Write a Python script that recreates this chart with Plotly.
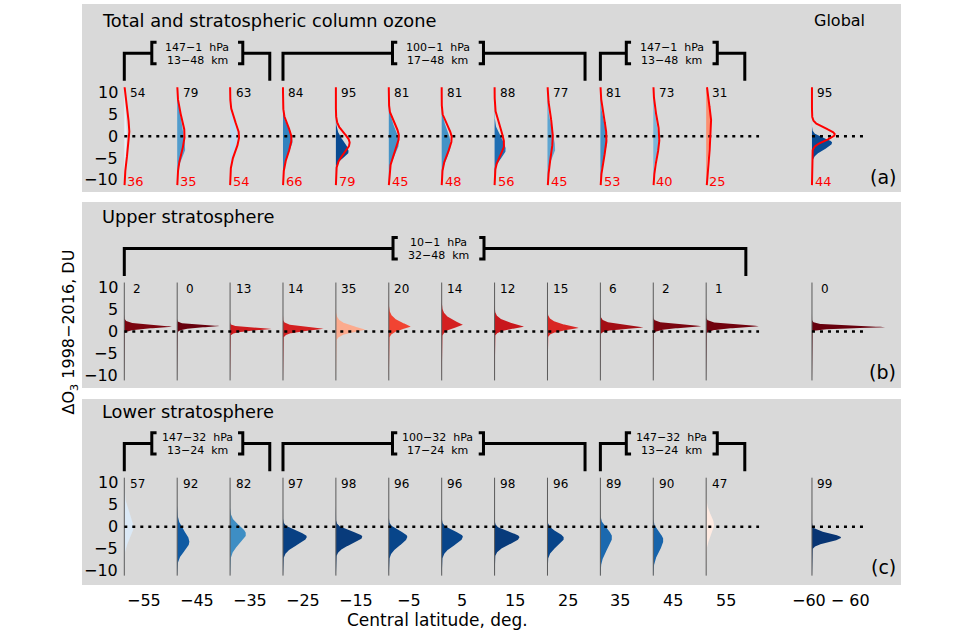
import numpy as np
import plotly.graph_objects as go
from plotly.colors import sample_colorscale, sequential

# ---------------- data ----------------
lat_labels = ["−55", "−45", "−35", "−25", "−15", "−5", "5", "15", "25", "35", "45", "55", "−60 − 60"]
col_pos = [0, 1, 2, 3, 4, 5, 6, 7, 8, 9, 10, 11, 13]   # last = global
y_ticks = [10, 5, 0, -5, -10]

# (a) total column (filled) : probability of decline, centre, upper/lower visible extent, peak width
a_prob = [54, 79, 63, 84, 95, 81, 81, 88, 77, 81, 73, 31, 95]
a_center = [-0.5, -3.0, 0.0, -1.1, -3.6, -1.5, -1.9, -3.1, -3.0, -1.5, -1.9, 3.4, -1.5]
a_top = [5.0, 8.0, 6.5, 4.6, 1.9, 5.7, 5.0, 2.7, 5.7, 6.5, 6.5, 10.3, 1.1]
a_bottom = [-6.0, -7.5, -6.5, -7.3, -6.5, -7.6, -8.0, -7.3, -7.3, -7.6, -6.5, -6.5, -5.3]
a_peak = [0.05, 0.15, 0.16, 0.18, 0.24, 0.19, 0.17, 0.21, 0.145, 0.13, 0.11, 0.08, 0.38]

# (a) stratospheric column (red curves)
r_prob = [36, 35, 54, 66, 79, 45, 48, 56, 45, 53, 40, 25, 44]
r_center = [1.0, 0.4, 0.0, -0.5, -1.5, 0.0, -0.4, -1.9, 0.0, -0.4, -0.4, 2.7, 0.4]
r_top = [8.8, 8.0, 6.5, 5.0, 3.4, 5.7, 5.0, 5.7, 8.0, 8.0, 8.0, 10.7, 3.8]
r_bottom = [-8.0, -7.6, -6.9, -7.6, -6.9, -7.6, -7.6, -7.3, -8.8, -8.8, -8.8, -9.5, -3.0]
r_peak = [0.095, 0.14, 0.17, 0.16, 0.26, 0.19, 0.19, 0.18, 0.10, 0.115, 0.115, 0.095, 0.43]

# (b) upper stratosphere
b_prob = [2, 0, 13, 14, 35, 20, 14, 12, 15, 6, 2, 1, 0]
b_center = [1.1, 1.25, 0.6, 0.6, 0.4, 1.1, 1.5, 1.1, 0.8, 0.9, 1.2, 1.2, 1.0]
b_top = [2.6, 2.2, 1.6, 2.2, 3.5, 4.6, 5.0, 4.2, 3.5, 3.0, 2.7, 2.7, 2.2]
b_bottom = [-0.3, 0.0, -0.8, -1.2, -1.8, -1.2, -0.8, -0.8, -1.1, -0.4, -0.3, -0.3, 0.0]
b_peak = [0.90, 0.80, 0.79, 0.78, 0.55, 0.41, 0.40, 0.55, 0.59, 0.82, 0.91, 1.00, 1.39]

# (c) lower stratosphere
c_prob = [57, 92, 82, 97, 98, 96, 96, 98, 96, 89, 90, 47, 99]
c_center = [-0.4, -3.5, -1.7, -2.3, -2.3, -2.3, -2.3, -2.4, -2.6, -2.4, -3.0, 0.3, -2.5]
c_top = [6.5, 1.9, 2.7, 0.8, 0.8, 0.8, 0.8, 0.5, 0.5, 1.5, 0.5, 5.0, 0.0]
c_bottom = [-5.5, -8.0, -6.9, -6.9, -6.5, -7.0, -7.0, -6.5, -7.0, -8.5, -8.5, -4.5, -5.0]
c_peak = [0.17, 0.23, 0.30, 0.45, 0.50, 0.35, 0.40, 0.47, 0.31, 0.22, 0.19, 0.15, 0.55]

# bracket groups: (left column, right end, label centre, line1, line2)
a_groups = [(0, 2.75, 1.38, "147−1  hPa", "13−48  km"),
            (3, 8.71, 5.93, "100−1  hPa", "17−48  km"),
            (9, 11.73, 10.35, "147−1  hPa", "13−48  km")]
b_groups = [(0, 11.75, 5.94, "10−1  hPa", "32−48  km")]
c_groups = [(0, 2.75, 1.38, "147−32  hPa", "13−24  km"),
            (3, 8.71, 5.93, "100−32  hPa", "17−24  km"),
            (9, 11.73, 10.35, "147−32  hPa", "13−24  km")]

panel_titles = ["Total and stratospheric column ozone", "Upper stratosphere", "Lower stratosphere"]
panel_tags = ["(a)", "(b)", "(c)"]

# ---------------- helpers ----------------
FONT = "DejaVu Sans"
PX = 52.9
YS = np.linspace(-11.2, 11.2, 600)


def prob_color(p):
    if p >= 50:
        return sample_colorscale(sequential.Blues, [(p - 50) / 50.0])[0]
    return sample_colorscale(sequential.Reds, [(50 - p) / 50.0])[0]


def profile(mu, top, bot, peak, pw):
    k = (2 * np.log(max(peak * PX, 1.6))) ** (1.0 / pw)
    s_up = max(top - mu, 0.1) / k
    s_dn = max(mu - bot, 0.1) / k
    z = np.where(YS >= mu, (YS - mu) / s_up, (mu - YS) / s_dn)
    return peak * np.exp(-0.5 * np.abs(z) ** pw)


fig = go.Figure()
annotations = []
shapes = []

axes = [("x", "y"), ("x2", "y2"), ("x3", "y3")]
fills = [(a_prob, a_center, a_top, a_bottom, a_peak, 2.0),
         (b_prob, b_center, b_top, b_bottom, b_peak, 1.4),
         (c_prob, c_center, c_top, c_bottom, c_peak, 2.0)]
groups_all = [a_groups, b_groups, c_groups]
title_sizes = [17.8, 17.8, 17.8]

for k, (xa, ya) in enumerate(axes):
    prob, cen, top, bot, peak, pw = fills[k]
    for i, x0 in enumerate(col_pos):
        prof = profile(cen[i], top[i], bot[i], peak[i], pw)
        xs = np.concatenate([x0 + prof, [x0, x0]])
        yv = np.concatenate([YS, [YS[-1], YS[0]]])
        fig.add_trace(go.Scatter(x=xs, y=yv, mode="lines", fill="toself",
                                 fillcolor=prob_color(prob[i]), line=dict(width=0),
                                 xaxis=xa, yaxis=ya, hoverinfo="skip", showlegend=False))
    # baselines (b, c)
    if k > 0:
        bx, by = [], []
        for x0 in col_pos:
            bx += [x0, x0, None]
            by += [-11.2, 11.2, None]
        fig.add_trace(go.Scatter(x=bx, y=by, mode="lines",
                                 line=dict(color="#5a5a5a", width=1),
                                 xaxis=xa, yaxis=ya, hoverinfo="skip", showlegend=False))
    # dotted zero line
    fig.add_trace(go.Scatter(x=[0, 12, None, 13, 14], y=[0, 0, None, 0, 0], mode="lines",
                             line=dict(color="black", width=2.5, dash="3px,5px"),
                             xaxis=xa, yaxis=ya, hoverinfo="skip", showlegend=False))
    # red curves in (a)
    if k == 0:
        for i, x0 in enumerate(col_pos):
            prof = profile(r_center[i], r_top[i], r_bottom[i], r_peak[i], 2.0)
            fig.add_trace(go.Scatter(x=x0 + prof, y=YS, mode="lines",
                                     line=dict(color="#ff0000", width=2),
                                     xaxis=xa, yaxis=ya, hoverinfo="skip", showlegend=False))
            annotations.append(dict(x=x0 + 0.22, y=-10.4, xref=xa, yref=ya, text=str(r_prob[i]),
                                    showarrow=False, xanchor="center", yanchor="middle",
                                    font=dict(family=FONT, size=13, color="#ff0000")))
    # black numbers
    for i, x0 in enumerate(col_pos):
        annotations.append(dict(x=x0 + 0.245, y=9.8, xref=xa, yref=ya, text=str(prob[i]),
                                showarrow=False, xanchor="center", yanchor="middle",
                                font=dict(family=FONT, size=12, color="black")))
    # y tick labels
    for v in y_ticks:
        annotations.append(dict(x=-0.09, y=v, xref=xa, yref=ya,
                                text=str(v).replace("-", "−"), showarrow=False,
                                xanchor="right", yanchor="middle",
                                font=dict(family=FONT, size=16, color="black")))
    # titles
    annotations.append(dict(x=-0.45, y=26.4, xref=xa, yref=ya, text=panel_titles[k],
                            showarrow=False, xanchor="left", yanchor="middle",
                            font=dict(family=FONT, size=title_sizes[k], color="black")))
    annotations.append(dict(x=14.62, y=-9.3, xref=xa, yref=ya, text=panel_tags[k],
                            showarrow=False, xanchor="right", yanchor="middle",
                            font=dict(family=FONT, size=19, color="black")))
    # brackets
    W = 0.86
    for (L, R, C, t1, t2) in groups_all[k]:
        lw = dict(color="black", width=3)
        path = f"M {L},12.7 L {L},19 L {C - W},19"
        shapes.append(dict(type="path", path=path, xref=xa, yref=ya, line=lw))
        path = f"M {C + W},19 L {R},19 L {R},12.7"
        shapes.append(dict(type="path", path=path, xref=xa, yref=ya, line=lw))
        path = f"M {C - W + 0.09},21.5 L {C - W},21.5 L {C - W},16.6 L {C - W + 0.09},16.6"
        shapes.append(dict(type="path", path=path, xref=xa, yref=ya, line=lw))
        path = f"M {C + W - 0.09},21.5 L {C + W},21.5 L {C + W},16.6 L {C + W - 0.09},16.6"
        shapes.append(dict(type="path", path=path, xref=xa, yref=ya, line=lw))
        annotations.append(dict(x=C, y=20.3, xref=xa, yref=ya, text=t1, showarrow=False,
                                xanchor="center", yanchor="middle",
                                font=dict(family=FONT, size=11, color="black")))
        annotations.append(dict(x=C, y=17.4, xref=xa, yref=ya, text=t2, showarrow=False,
                                xanchor="center", yanchor="middle",
                                font=dict(family=FONT, size=11, color="black")))

annotations.append(dict(x=13.0, y=26.4, xref="x", yref="y", text="Global", showarrow=False,
                        xanchor="left", yanchor="middle",
                        font=dict(family=FONT, size=16, color="black")))

# x labels
for i, x0 in enumerate(col_pos):
    off = 0.36 if i == len(col_pos) - 1 else 0.38
    annotations.append(dict(x=x0 + off, y=1 - 600 / 633, xref="x3", yref="paper",
                            text=lat_labels[i], showarrow=False, xanchor="center",
                            yanchor="middle", font=dict(family=FONT, size=16, color="black")))
annotations.append(dict(x=5.92, y=1 - 620 / 633, xref="x3", yref="paper",
                        text="Central latitude, deg.", showarrow=False, xanchor="center",
                        yanchor="middle", font=dict(family=FONT, size=17, color="black")))
annotations.append(dict(x=-0.0147, y=1 - 331.5 / 633, xref="paper", yref="paper",
                        text="ΔO<sub>3</sub> 1998−2016, DU", textangle=-90, showarrow=False,
                        xanchor="center", yanchor="middle",
                        font=dict(family=FONT, size=16, color="black")))

xr = [-0.7996, 14.683]
ax_common = dict(visible=False, showgrid=False, zeroline=False, fixedrange=True)
fig.update_layout(
    width=960, height=633,
    margin=dict(l=82, r=59, t=0, b=0),
    paper_bgcolor="white", plot_bgcolor="#d9d9d9",
    showlegend=False,
    xaxis=dict(domain=[0, 1], range=xr, anchor="y", **ax_common),
    xaxis2=dict(domain=[0, 1], range=xr, anchor="y2", **ax_common),
    xaxis3=dict(domain=[0, 1], range=xr, anchor="y3", **ax_common),
    yaxis=dict(domain=[1 - 192 / 633, 1 - 4 / 633], range=[-12.77, 30.25], anchor="x", **ax_common),
    yaxis2=dict(domain=[1 - 388 / 633, 1 - 202 / 633], range=[-12.93, 29.63], anchor="x2", **ax_common),
    yaxis3=dict(domain=[1 - 585 / 633, 1 - 399 / 633], range=[-13.34, 29.2], anchor="x3", **ax_common),
    annotations=annotations,
    shapes=shapes,
)

fig.write_html("out.html", config={"displayModeBar": False},
               post_script="document.body.style.margin='0';document.body.style.overflow='hidden';")
